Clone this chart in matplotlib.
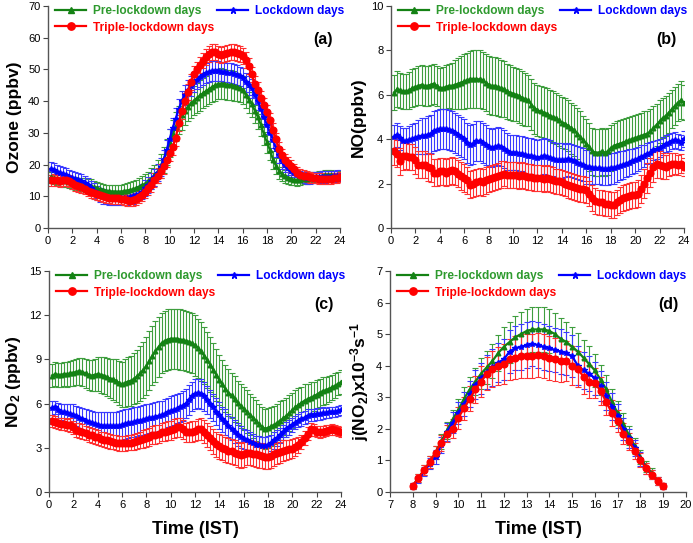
import numpy as np
import matplotlib
matplotlib.use("Agg")
import matplotlib.pyplot as plt
from matplotlib.lines import Line2D

plt.rcParams['font.family'] = ['Liberation Sans', 'DejaVu Sans']
plt.rcParams['mathtext.fontset'] = 'custom'
plt.rcParams['mathtext.rm'] = 'Liberation Sans:bold'
plt.rcParams['mathtext.bf'] = 'Liberation Sans:bold'
plt.rcParams['mathtext.default'] = 'bf'

# ---------------- data ----------------
hours = np.arange(0.25, 24.01, 0.25)      # 15-min time axis, panels a-c
hours_d = np.arange(8.0, 19.01, 0.25)     # 15-min time axis, panel d

series_names = ["Pre-lockdown days", "Lockdown days", "Triple-lockdown days"]

# (a) Ozone (ppbv)
o3_pre = [16.0, 15.8, 15.5, 15.2, 15.0, 14.8, 14.5, 14.2, 14.0, 13.9, 13.7, 13.6,
          13.5, 13.2, 12.9, 12.6, 12.3, 12.0, 11.8, 11.6, 11.5, 11.5, 11.4, 11.5,
          11.6, 11.8, 12.0, 12.2, 12.6, 13.0, 13.5, 14.0, 14.8, 15.6, 16.6, 17.8,
          19.5, 21.5, 24.0, 26.8, 29.5, 32.0, 34.0, 35.5, 37.0, 38.3, 39.3, 40.2,
          41.0, 41.8, 42.5, 43.2, 43.8, 44.5, 45.0, 45.4, 45.5, 45.4, 45.2, 45.0,
          44.8, 44.5, 44.0, 43.5, 42.0, 40.5, 39.0, 37.0, 35.0, 32.5, 29.5, 27.0,
          24.5, 21.5, 19.5, 18.0, 17.0, 16.3, 15.8, 15.4, 15.2, 15.1, 15.2, 15.4,
          15.6, 15.8, 16.0, 16.1, 16.2, 16.4, 16.6, 16.7, 16.6, 16.5, 16.4, 16.3]
o3_lock = [18.5, 18.2, 17.8, 17.4, 17.0, 16.6, 16.2, 15.8, 15.5, 15.2, 14.8, 14.2,
           13.5, 12.6, 11.8, 11.0, 10.4, 10.0, 9.8, 9.6, 9.5, 9.5, 9.4, 9.5,
           9.5, 9.6, 9.8, 10.0, 10.3, 10.8, 11.5, 12.5, 13.5, 14.8, 16.0, 17.5,
           19.2, 21.5, 24.5, 28.0, 31.5, 34.5, 37.5, 40.0, 42.0, 43.5, 44.8, 46.0,
           46.8, 47.5, 48.2, 48.8, 49.2, 49.5, 49.6, 49.5, 49.3, 49.2, 49.0, 48.8,
           48.5, 48.2, 47.8, 47.2, 46.0, 45.0, 44.0, 42.0, 40.0, 37.5, 35.0, 32.5,
           30.0, 27.8, 25.0, 23.0, 21.0, 19.8, 18.8, 18.0, 17.3, 16.8, 16.3, 16.0,
           15.8, 15.8, 15.9, 16.0, 16.0, 16.1, 16.1, 16.2, 16.2, 16.3, 16.4, 16.5]
o3_triple = [15.0, 15.2, 15.0, 14.8, 15.0, 15.2, 14.8, 14.2, 13.6, 13.2, 12.8, 12.4,
             11.8, 11.3, 10.9, 10.6, 10.3, 10.0, 9.8, 9.6, 9.5, 9.4, 9.5, 9.3,
             9.0, 8.7, 8.6, 8.8, 9.2, 9.8, 10.5, 11.5, 12.5, 13.5, 15.0, 16.5,
             18.0, 19.5, 21.5, 23.5, 25.5, 28.5, 33.0, 37.0, 40.0, 43.0, 46.0, 48.5,
             50.0, 51.5, 52.8, 54.0, 54.8, 55.5, 55.5, 55.0, 54.5, 54.8, 55.3, 55.6,
             55.5, 55.2, 54.8, 54.2, 53.0, 51.0, 48.5, 45.5, 43.5, 41.0, 38.8, 36.5,
             34.0, 31.0, 28.0, 25.0, 23.0, 21.5, 20.5, 19.5, 18.5, 17.3, 16.8, 16.5,
             16.3, 16.0, 15.8, 15.7, 15.6, 15.6, 15.5, 15.6, 15.6, 15.7, 15.8, 16.0]
o3_pre_err = [1.8, 1.9, 1.9, 2.0, 2.0, 1.9, 1.9, 2.0, 2.0, 2.0, 2.1, 2.1,
              2.1, 2.1, 2.0, 2.0, 2.0, 1.9, 1.9, 2.0, 2.0, 2.0, 2.1, 2.1,
              2.2, 2.3, 2.4, 2.5, 2.6, 2.7, 2.8, 2.9, 3.0, 3.2, 3.4, 3.6,
              3.8, 4.0, 4.2, 4.3, 4.4, 4.5, 4.5, 4.6, 4.6, 4.6, 4.7, 4.7,
              4.7, 4.8, 4.8, 4.8, 4.8, 4.8, 4.8, 4.8, 4.8, 4.8, 4.7, 4.7,
              4.6, 4.5, 4.4, 4.3, 4.2, 4.1, 4.0, 3.9, 3.8, 3.6, 3.4, 3.2,
              3.0, 2.8, 2.6, 2.4, 2.2, 2.0, 1.9, 1.8, 1.7, 1.7, 1.6, 1.6,
              1.6, 1.6, 1.6, 1.6, 1.7, 1.7, 1.7, 1.7, 1.7, 1.6, 1.6, 1.6]
o3_lock_err = [2.3, 2.3, 2.2, 2.2, 2.2, 2.2, 2.1, 2.1, 2.1, 2.1, 2.1, 2.2,
               2.2, 2.2, 2.3, 2.3, 2.3, 2.3, 2.2, 2.2, 2.2, 2.2, 2.2, 2.2,
               2.2, 2.2, 2.2, 2.3, 2.3, 2.4, 2.4, 2.5, 2.5, 2.6, 2.7, 2.8,
               2.9, 3.0, 3.1, 3.1, 3.2, 3.2, 3.2, 3.2, 3.1, 3.1, 3.1, 3.1,
               3.1, 3.1, 3.1, 3.1, 3.1, 3.1, 3.1, 3.1, 3.1, 3.1, 3.1, 3.1,
               3.1, 3.1, 3.1, 3.1, 3.0, 3.0, 3.0, 3.0, 2.9, 2.9, 2.8, 2.8,
               2.7, 2.6, 2.5, 2.4, 2.3, 2.2, 2.1, 2.0, 1.9, 1.8, 1.8, 1.8,
               1.8, 1.8, 1.8, 1.8, 1.8, 1.8, 1.8, 1.8, 1.8, 1.8, 1.8, 1.8]
o3_triple_err = [1.8, 1.8, 1.8, 1.8, 1.8, 1.8, 1.8, 1.8, 1.8, 1.8, 1.8, 1.8,
                 1.8, 1.8, 1.8, 1.8, 1.8, 1.8, 1.8, 1.8, 1.8, 1.8, 1.8, 1.8,
                 1.8, 1.8, 1.8, 1.9, 1.9, 2.0, 2.0, 2.1, 2.1, 2.2, 2.2, 2.3,
                 2.3, 2.4, 2.4, 2.4, 2.5, 2.5, 2.5, 2.5, 2.5, 2.5, 2.5, 2.5,
                 2.5, 2.5, 2.5, 2.5, 2.5, 2.5, 2.5, 2.5, 2.5, 2.5, 2.5, 2.5,
                 2.5, 2.5, 2.5, 2.5, 2.5, 2.5, 2.4, 2.4, 2.4, 2.3, 2.3, 2.2,
                 2.2, 2.1, 2.1, 2.0, 2.0, 1.9, 1.9, 1.8, 1.8, 1.8, 1.7, 1.7,
                 1.7, 1.7, 1.6, 1.6, 1.6, 1.6, 1.6, 1.6, 1.6, 1.6, 1.6, 1.6]

# (b) NO (ppbv)
no_pre = [6.10, 6.25, 6.20, 6.15, 6.15, 6.20, 6.30, 6.35, 6.40, 6.45, 6.40, 6.40,
          6.45, 6.50, 6.40, 6.30, 6.30, 6.35, 6.40, 6.40, 6.45, 6.50, 6.55, 6.60,
          6.65, 6.70, 6.70, 6.70, 6.70, 6.65, 6.55, 6.45, 6.40, 6.40, 6.35, 6.30,
          6.25, 6.15, 6.10, 6.05, 6.00, 5.95, 5.85, 5.80, 5.75, 5.55, 5.40, 5.30,
          5.25, 5.20, 5.15, 5.05, 5.00, 4.95, 4.85, 4.75, 4.70, 4.60, 4.50, 4.40,
          4.25, 4.10, 3.95, 3.80, 3.65, 3.45, 3.40, 3.40, 3.45, 3.40, 3.45, 3.60,
          3.70, 3.75, 3.80, 3.85, 3.90, 3.95, 4.00, 4.05, 4.10, 4.15, 4.20, 4.25,
          4.35, 4.50, 4.65, 4.80, 4.95, 5.05, 5.20, 5.35, 5.50, 5.65, 5.75, 5.65]
no_lock = [4.10, 4.20, 4.05, 3.90, 3.90, 3.95, 4.00, 4.05, 4.10, 4.15, 4.15, 4.20,
           4.25, 4.35, 4.40, 4.45, 4.45, 4.45, 4.40, 4.35, 4.30, 4.20, 4.10, 4.00,
           3.85, 3.75, 3.80, 3.90, 3.90, 3.85, 3.75, 3.65, 3.60, 3.65, 3.70, 3.65,
           3.55, 3.45, 3.40, 3.40, 3.40, 3.35, 3.35, 3.30, 3.25, 3.25, 3.20, 3.15,
           3.20, 3.25, 3.20, 3.15, 3.10, 3.05, 3.05, 3.05, 3.05, 3.10, 3.05, 3.00,
           2.95, 2.90, 2.85, 2.75, 2.75, 2.70, 2.70, 2.70, 2.65, 2.65, 2.65, 2.70,
           2.70, 2.75, 2.80, 2.85, 2.90, 2.95, 3.00, 3.05, 3.10, 3.20, 3.25, 3.35,
           3.40, 3.50, 3.55, 3.60, 3.70, 3.80, 3.85, 3.90, 3.95, 3.90, 3.85, 4.00]
no_triple = [3.45, 3.35, 3.00, 3.25, 3.25, 3.20, 3.20, 3.05, 2.85, 2.85, 2.85, 2.75,
             2.70, 2.50, 2.50, 2.55, 2.55, 2.50, 2.55, 2.60, 2.55, 2.45, 2.35, 2.25,
             2.15, 1.95, 2.00, 2.05, 2.10, 2.05, 2.15, 2.20, 2.25, 2.30, 2.35, 2.40,
             2.45, 2.40, 2.40, 2.40, 2.40, 2.35, 2.40, 2.35, 2.30, 2.30, 2.25, 2.25,
             2.25, 2.20, 2.25, 2.20, 2.15, 2.10, 2.10, 2.05, 2.00, 1.95, 1.90, 1.85,
             1.80, 1.75, 1.75, 1.70, 1.55, 1.35, 1.20, 1.15, 1.15, 1.10, 1.10, 1.05,
             1.05, 1.15, 1.25, 1.35, 1.40, 1.45, 1.50, 1.50, 1.55, 1.75, 2.00, 2.25,
             2.50, 2.75, 2.90, 2.85, 2.80, 2.75, 2.85, 2.90, 2.90, 2.85, 2.90, 2.75]
no_pre_err = [0.80, 0.80, 0.80, 0.80, 0.80, 0.82, 0.85, 0.85, 0.88, 0.90, 0.90, 0.90,
              0.90, 0.90, 0.90, 0.92, 0.95, 0.98, 1.00, 1.05, 1.10, 1.15, 1.20, 1.25,
              1.25, 1.28, 1.30, 1.30, 1.30, 1.30, 1.30, 1.30, 1.30, 1.30, 1.30, 1.28,
              1.25, 1.25, 1.25, 1.22, 1.20, 1.20, 1.20, 1.20, 1.15, 1.15, 1.15, 1.15,
              1.15, 1.15, 1.15, 1.15, 1.15, 1.15, 1.15, 1.15, 1.15, 1.15, 1.15, 1.15,
              1.15, 1.15, 1.10, 1.10, 1.10, 1.05, 1.05, 1.05, 1.05, 1.05, 1.05, 1.05,
              1.05, 1.05, 1.05, 1.05, 1.05, 1.05, 1.05, 1.05, 1.05, 1.05, 1.05, 1.00,
              1.00, 1.00, 0.95, 0.95, 0.90, 0.90, 0.90, 0.85, 0.85, 0.85, 0.85, 0.80]
no_lock_err = [0.55, 0.55, 0.55, 0.60, 0.60, 0.65, 0.70, 0.70, 0.75, 0.80, 0.80, 0.85,
               0.85, 0.90, 0.90, 0.90, 0.90, 0.90, 0.90, 0.90, 0.90, 0.90, 0.90, 0.90,
               0.90, 0.90, 0.90, 0.90, 0.90, 0.90, 0.90, 0.85, 0.85, 0.85, 0.85, 0.85,
               0.85, 0.85, 0.80, 0.80, 0.80, 0.80, 0.80, 0.80, 0.80, 0.80, 0.80, 0.80,
               0.80, 0.80, 0.80, 0.80, 0.78, 0.78, 0.78, 0.78, 0.75, 0.75, 0.75, 0.75,
               0.75, 0.75, 0.75, 0.75, 0.75, 0.72, 0.72, 0.70, 0.70, 0.70, 0.70, 0.70,
               0.70, 0.68, 0.66, 0.64, 0.62, 0.60, 0.58, 0.56, 0.55, 0.52, 0.50, 0.48,
               0.46, 0.44, 0.42, 0.40, 0.40, 0.38, 0.38, 0.36, 0.36, 0.35, 0.35, 0.35]
no_triple_err = [0.60, 0.62, 0.62, 0.62, 0.60, 0.60, 0.60, 0.60, 0.62, 0.62, 0.62, 0.62,
                 0.62, 0.62, 0.62, 0.62, 0.62, 0.62, 0.62, 0.62, 0.62, 0.62, 0.62, 0.62,
                 0.60, 0.60, 0.60, 0.60, 0.60, 0.60, 0.60, 0.60, 0.60, 0.60, 0.60, 0.60,
                 0.58, 0.58, 0.58, 0.58, 0.58, 0.58, 0.58, 0.58, 0.58, 0.58, 0.58, 0.58,
                 0.58, 0.58, 0.58, 0.58, 0.58, 0.58, 0.58, 0.58, 0.58, 0.58, 0.58, 0.58,
                 0.58, 0.58, 0.58, 0.58, 0.58, 0.58, 0.58, 0.58, 0.58, 0.58, 0.58, 0.58,
                 0.58, 0.58, 0.58, 0.58, 0.58, 0.58, 0.58, 0.58, 0.60, 0.62, 0.64, 0.66,
                 0.66, 0.66, 0.64, 0.62, 0.60, 0.56, 0.52, 0.50, 0.48, 0.46, 0.44, 0.42]

# (c) NO2 (ppbv)
no2_pre = [7.90, 8.00, 7.95, 7.95, 8.00, 8.00, 8.05, 8.10, 8.15, 8.20, 8.15, 8.05,
           7.95, 7.90, 7.95, 8.00, 7.95, 7.90, 7.80, 7.70, 7.65, 7.55, 7.40, 7.30,
           7.40, 7.50, 7.55, 7.70, 7.85, 8.05, 8.30, 8.55, 8.90, 9.25, 9.55, 9.85,
           10.10, 10.25, 10.35, 10.40, 10.40, 10.40, 10.35, 10.30, 10.25, 10.20, 10.10, 9.95,
           9.75, 9.55, 9.25, 8.95, 8.65, 8.30, 7.95, 7.60, 7.30, 7.00, 6.75, 6.55,
           6.30, 6.05, 5.85, 5.65, 5.45, 5.25, 5.05, 4.85, 4.60, 4.40, 4.30, 4.35,
           4.45, 4.55, 4.70, 4.85, 5.00, 5.15, 5.35, 5.55, 5.75, 5.90, 6.05, 6.20,
           6.30, 6.40, 6.50, 6.60, 6.75, 6.85, 6.90, 7.00, 7.10, 7.20, 7.35, 7.45]
no2_lock = [5.70, 5.75, 5.55, 5.45, 5.40, 5.35, 5.30, 5.25, 5.15, 5.05, 4.95, 4.85,
            4.75, 4.65, 4.60, 4.55, 4.50, 4.50, 4.45, 4.45, 4.45, 4.45, 4.50, 4.55,
            4.60, 4.65, 4.70, 4.75, 4.80, 4.85, 4.90, 4.95, 5.00, 5.05, 5.10, 5.15,
            5.20, 5.30, 5.40, 5.50, 5.55, 5.65, 5.75, 5.85, 6.00, 6.25, 6.50, 6.65,
            6.70, 6.65, 6.50, 6.25, 6.00, 5.75, 5.45, 5.20, 4.95, 4.75, 4.50, 4.30,
            4.10, 3.90, 3.75, 3.60, 3.50, 3.40, 3.30, 3.20, 3.20, 3.15, 3.15, 3.20,
            3.35, 3.50, 3.65, 3.85, 4.05, 4.25, 4.40, 4.55, 4.70, 4.85, 4.95, 5.05,
            5.15, 5.20, 5.25, 5.30, 5.30, 5.35, 5.35, 5.40, 5.45, 5.45, 5.50, 5.55]
no2_triple = [4.80, 4.75, 4.65, 4.60, 4.60, 4.55, 4.55, 4.40, 4.20, 4.15, 4.10, 4.00,
              3.90, 3.85, 3.75, 3.70, 3.60, 3.55, 3.50, 3.45, 3.40, 3.35, 3.30, 3.30,
              3.30, 3.35, 3.35, 3.40, 3.45, 3.55, 3.60, 3.65, 3.75, 3.85, 3.90, 3.95,
              4.05, 4.10, 4.15, 4.20, 4.30, 4.40, 4.40, 4.25, 4.05, 4.05, 4.10, 4.15,
              4.25, 4.30, 4.10, 3.85, 3.65, 3.45, 3.25, 3.10, 3.00, 2.90, 2.80, 2.75,
              2.65, 2.55, 2.50, 2.55, 2.65, 2.65, 2.60, 2.55, 2.50, 2.45, 2.40, 2.40,
              2.45, 2.55, 2.65, 2.70, 2.80, 2.85, 2.90, 2.95, 3.05, 3.20, 3.40, 3.65,
              3.95, 4.25, 4.20, 4.10, 4.05, 4.10, 4.15, 4.20, 4.25, 4.20, 4.15, 4.05]
no2_pre_err = [0.80, 0.80, 0.80, 0.80, 0.82, 0.85, 0.85, 0.88, 0.90, 0.92, 0.95, 0.98,
               1.00, 1.05, 1.10, 1.15, 1.20, 1.25, 1.30, 1.35, 1.40, 1.45, 1.50, 1.55,
               1.60, 1.65, 1.70, 1.75, 1.80, 1.85, 1.90, 1.95, 2.00, 2.00, 2.05, 2.05,
               2.05, 2.05, 2.05, 2.05, 2.05, 2.05, 2.05, 2.05, 2.05, 2.05, 2.05, 2.05,
               2.00, 2.00, 1.95, 1.90, 1.85, 1.80, 1.75, 1.70, 1.65, 1.60, 1.60, 1.55,
               1.55, 1.50, 1.50, 1.45, 1.45, 1.40, 1.40, 1.40, 1.40, 1.40, 1.35, 1.35,
               1.35, 1.30, 1.30, 1.30, 1.25, 1.25, 1.20, 1.20, 1.15, 1.15, 1.10, 1.10,
               1.05, 1.05, 1.00, 1.00, 0.95, 0.95, 0.90, 0.90, 0.85, 0.85, 0.80, 0.80]
no2_lock_err = [0.45, 0.45, 0.50, 0.55, 0.55, 0.60, 0.65, 0.70, 0.70, 0.75, 0.75, 0.80,
                0.80, 0.85, 0.85, 0.90, 0.90, 0.95, 0.95, 1.00, 1.00, 1.00, 1.00, 1.00,
                1.00, 1.00, 1.00, 1.00, 1.00, 1.00, 1.00, 1.00, 1.00, 1.00, 1.00, 1.00,
                1.00, 1.00, 1.00, 1.00, 1.00, 1.00, 1.00, 1.00, 1.00, 1.00, 1.00, 1.00,
                1.00, 1.00, 1.00, 0.95, 0.95, 0.90, 0.90, 0.90, 0.85, 0.85, 0.80, 0.80,
                0.80, 0.75, 0.75, 0.70, 0.70, 0.65, 0.65, 0.60, 0.60, 0.60, 0.60, 0.60,
                0.55, 0.55, 0.55, 0.50, 0.50, 0.50, 0.50, 0.50, 0.45, 0.45, 0.45, 0.45,
                0.45, 0.40, 0.40, 0.40, 0.40, 0.40, 0.35, 0.35, 0.35, 0.35, 0.35, 0.35]
no2_triple_err = [0.40, 0.40, 0.40, 0.40, 0.40, 0.42, 0.45, 0.45, 0.48, 0.50, 0.50, 0.50,
                  0.50, 0.50, 0.50, 0.50, 0.50, 0.50, 0.50, 0.50, 0.50, 0.50, 0.50, 0.50,
                  0.50, 0.50, 0.50, 0.52, 0.55, 0.55, 0.58, 0.60, 0.60, 0.60, 0.62, 0.62,
                  0.62, 0.62, 0.65, 0.65, 0.65, 0.65, 0.65, 0.65, 0.65, 0.68, 0.70, 0.70,
                  0.72, 0.75, 0.78, 0.80, 0.82, 0.85, 0.85, 0.85, 0.85, 0.85, 0.85, 0.85,
                  0.85, 0.85, 0.85, 0.85, 0.85, 0.85, 0.85, 0.85, 0.85, 0.85, 0.85, 0.85,
                  0.80, 0.78, 0.75, 0.72, 0.70, 0.68, 0.65, 0.62, 0.60, 0.55, 0.50, 0.48,
                  0.45, 0.42, 0.40, 0.40, 0.40, 0.38, 0.38, 0.36, 0.35, 0.35, 0.35, 0.35]

# (d) j(NO2) x10^-3 s^-1
j_pre = [0.20, 0.45, 0.70, 0.95, 1.25, 1.60, 1.95, 2.30, 2.60, 2.95, 3.25, 3.50,
         3.75, 3.95, 4.15, 4.40, 4.60, 4.75, 4.90, 5.00, 5.10, 5.15, 5.15, 5.15,
         5.10, 5.00, 4.85, 4.75, 4.60, 4.45, 4.25, 4.05, 3.85, 3.55, 3.25, 2.85,
         2.50, 2.15, 1.80, 1.45, 1.10, 0.80, 0.60, 0.35, 0.20]
j_lock = [0.20, 0.40, 0.65, 0.90, 1.10, 1.50, 1.90, 2.20, 2.50, 2.80, 3.10, 3.40,
          3.60, 3.80, 3.95, 4.10, 4.20, 4.45, 4.55, 4.60, 4.65, 4.70, 4.65, 4.60,
          4.55, 4.50, 4.45, 4.40, 4.30, 4.00, 3.85, 3.75, 3.60, 3.35, 3.05, 2.70,
          2.40, 2.00, 1.70, 1.40, 1.05, 0.75, 0.55, 0.35, 0.20]
j_triple = [0.20, 0.45, 0.70, 0.95, 1.25, 1.55, 1.85, 2.00, 2.35, 2.65, 2.95, 3.25,
            3.50, 3.75, 3.90, 4.00, 4.05, 4.20, 4.25, 4.30, 4.30, 4.30, 4.35, 4.30,
            4.25, 4.20, 4.15, 4.15, 4.00, 3.90, 3.65, 3.50, 3.45, 3.20, 2.85, 2.50,
            2.25, 1.85, 1.60, 1.30, 1.00, 0.75, 0.55, 0.35, 0.20]
j_pre_err = [0.10, 0.12, 0.15, 0.18, 0.22, 0.25, 0.28, 0.30, 0.33, 0.36, 0.40, 0.44,
             0.48, 0.52, 0.55, 0.58, 0.62, 0.65, 0.68, 0.70, 0.70, 0.70, 0.70, 0.70,
             0.70, 0.68, 0.66, 0.64, 0.62, 0.60, 0.58, 0.56, 0.52, 0.48, 0.45, 0.42,
             0.38, 0.34, 0.30, 0.26, 0.22, 0.18, 0.15, 0.12, 0.10]
j_lock_err = [0.10, 0.12, 0.15, 0.18, 0.22, 0.25, 0.28, 0.32, 0.35, 0.38, 0.42, 0.46,
              0.50, 0.54, 0.58, 0.62, 0.65, 0.68, 0.70, 0.72, 0.72, 0.72, 0.72, 0.72,
              0.72, 0.70, 0.70, 0.68, 0.66, 0.62, 0.58, 0.55, 0.52, 0.48, 0.45, 0.42,
              0.38, 0.34, 0.30, 0.26, 0.22, 0.18, 0.15, 0.12, 0.10]
j_triple_err = [0.10, 0.12, 0.15, 0.18, 0.22, 0.25, 0.28, 0.30, 0.34, 0.37, 0.40, 0.44,
                0.48, 0.52, 0.56, 0.60, 0.64, 0.66, 0.68, 0.70, 0.70, 0.70, 0.70, 0.70,
                0.70, 0.68, 0.66, 0.64, 0.62, 0.58, 0.55, 0.52, 0.48, 0.45, 0.42, 0.40,
                0.36, 0.32, 0.28, 0.25, 0.22, 0.18, 0.15, 0.12, 0.10]

# ---------------- style ----------------
GREEN, BLUE, RED = '#148214', '#0000ff', '#ff0000'
EGREEN, EBLUE, ERED = '#3e9e3e', '#3a3aff', '#ff3030'
LGREEN = '#2e9a2e'
styles = [
    dict(color=GREEN, ecolor=EGREEN, marker='^', ms=3.3, lw=1.6),
    dict(color=BLUE, ecolor=EBLUE, marker='*', ms=4.0, lw=1.6),
    dict(color=RED, ecolor=ERED, marker='o', ms=4.8, lw=1.6),
]
text_colors = [LGREEN, BLUE, RED]

fig = plt.figure(figsize=(6.93, 5.43), dpi=100)
W, H = 693.0, 543.0
rects = {
    'a': (48, 6, 340, 228),
    'b': (391, 6, 684, 228),
    'c': (49, 271, 341, 492),
    'd': (390, 271, 686, 492),
}


def make_ax(key):
    l, t, r, b = rects[key]
    return fig.add_axes([l / W, 1 - b / H, (r - l) / W, (b - t) / H])


panels = [
    ('a', hours, [o3_pre, o3_lock, o3_triple], [o3_pre_err, o3_lock_err, o3_triple_err],
     (0, 24), np.arange(0, 25, 2), (0, 70), np.arange(0, 71, 10), 'Ozone (ppbv)', 12.5),
    ('b', hours, [no_pre, no_lock, no_triple], [no_pre_err, no_lock_err, no_triple_err],
     (0, 24), np.arange(0, 25, 2), (0, 10), np.arange(0, 11, 2), 'NO(ppbv)', 12.5),
    ('c', hours, [no2_pre, no2_lock, no2_triple], [no2_pre_err, no2_lock_err, no2_triple_err],
     (0, 24), np.arange(0, 25, 2), (0, 15), np.arange(0, 16, 3), 'NO$_2$ (ppbv)', 12.5),
    ('d', hours_d, [j_pre, j_lock, j_triple], [j_pre_err, j_lock_err, j_triple_err],
     (7, 20), np.arange(7, 21, 1), (0, 7), np.arange(0, 8, 1),
     'j(NO$_2$)x10$^{-3}$s$^{-1}$', 12.5),
]

for key, x, ys, es, xlim, xt, ylim, yt, ylab, yfs in panels:
    ax = make_ax(key)
    for y, e, st in zip(ys, es, styles):
        ax.errorbar(x, y, yerr=e, color=st['color'], ecolor=st['ecolor'],
                    marker=st['marker'], ms=st['ms'], mec=st['color'], mfc=st['color'],
                    lw=st['lw'], elinewidth=0.8, capsize=2.4, capthick=0.8, zorder=2)
    ax.set_xlim(*xlim)
    ax.set_ylim(*ylim)
    ax.set_xticks(xt)
    ax.set_yticks(yt)
    for s in ['top', 'right']:
        ax.spines[s].set_visible(False)
    for s in ['left', 'bottom']:
        ax.spines[s].set_color('#555555')
        ax.spines[s].set_linewidth(1.0)
    ax.tick_params(direction='out', length=3.5, width=0.8, colors='#444444',
                   labelsize=8, labelcolor='black', pad=2)
    ax.set_ylabel(ylab, fontsize=yfs, fontweight='bold', labelpad=4)
    if key in ('c', 'd'):
        ax.set_xlabel('Time (IST)', fontsize=13, fontweight='bold', labelpad=8)
    ax.text(0.975, 0.85, f'({key})', transform=ax.transAxes, ha='right', va='center',
            fontsize=11.5, fontweight='bold')

    handles = [Line2D([], [], color=st['color'], marker=st['marker'], ms=st['ms'] + 0.5,
                      lw=st['lw']) for st in styles]
    order = [0, 2, 1]
    leg = ax.legend([handles[i] for i in order], [series_names[i] for i in order],
                    ncol=2, loc='upper left', bbox_to_anchor=(0.0, 1.035), frameon=False,
                    prop={'weight': 'bold', 'size': 8.6}, handlelength=2.6,
                    handletextpad=0.6, columnspacing=0.2, labelspacing=0.35,
                    borderaxespad=0.2)
    for txt, i in zip(leg.get_texts(), order):
        txt.set_color(text_colors[i])

fig.savefig('out.png', dpi=100)
